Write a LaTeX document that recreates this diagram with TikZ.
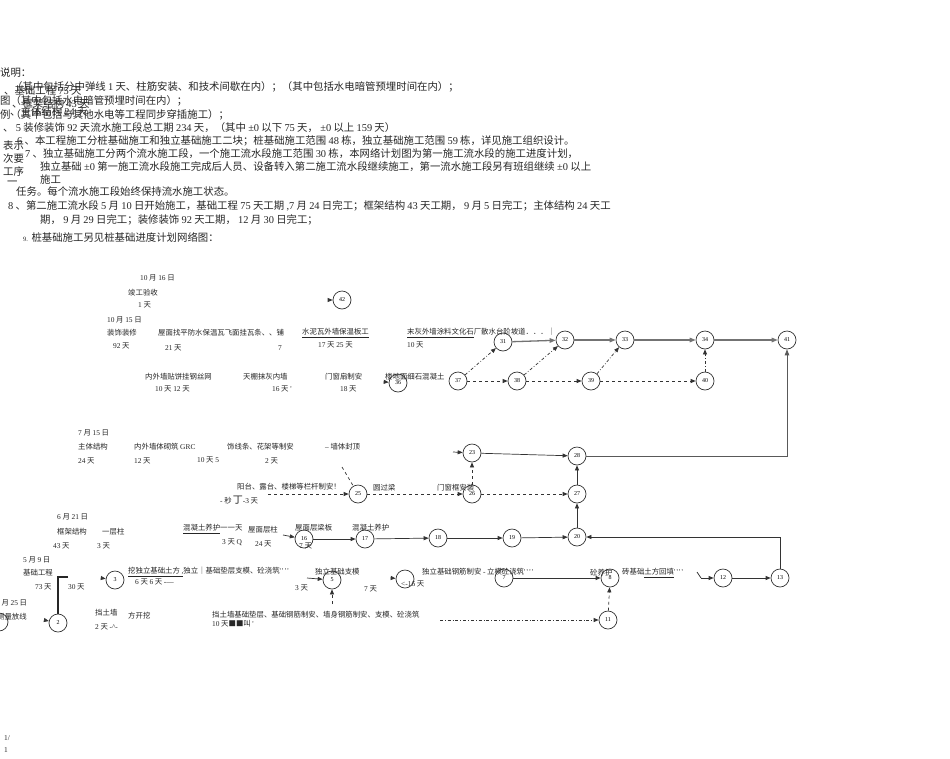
\documentclass[tikz,border=0pt]{standalone}
\usepackage{fontspec}
\setmainfont{Liberation Serif}
\newfontfamily\cjkf{Noto Sans CJK SC}
\newfontfamily\latf{Liberation Serif}
\usetikzlibrary{arrows.meta}
\XeTeXinterchartokenstate=1
\newXeTeXintercharclass\cjkcls
\newcount\mycnt
\def\setcjkrange#1#2{\mycnt=#1\relax\loop\XeTeXcharclass\mycnt=\cjkcls\relax\ifnum\mycnt<#2\relax\advance\mycnt by 1\relax\repeat}
\setcjkrange{"2E80}{"9FFF}
\setcjkrange{"FF00}{"FFEF}
\setcjkrange{"25A0}{"25FF}
\XeTeXinterchartoks 0 \cjkcls = {\hskip0.22em\cjkf}
\XeTeXinterchartoks 4095 \cjkcls = {\cjkf}
\XeTeXinterchartoks \cjkcls 0 = {\hskip0.22em\latf}
\XeTeXinterchartoks \cjkcls 4095 = {\latf}
\newcommand\qq{\textquotesingle\,\textquotesingle\,\textquotesingle\,\textquotesingle}
\tikzset{
  ev/.style={circle,draw=black!80,line width=0.7pt,minimum size=18pt,inner sep=0pt,font=\fontsize{6}{6}\selectfont},
  lb/.style={anchor=west,inner sep=0pt,font=\fontsize{7.4}{9}\selectfont,text=black!85},
  tx/.style={anchor=west,inner sep=0pt,font=\fontsize{10.4}{11}\selectfont,text=black!85},
  sol/.style={draw=black!80,line width=0.7pt,-{Triangle[length=5pt,width=4pt]}},
  gsol/.style={draw=black!55,line width=1.3pt,-{Triangle[length=6pt,width=4.5pt]}},
  dsh/.style={sol,dashed},
  ddot/.style={sol,dash dot},
}
\begin{document}
\begin{tikzpicture}[x=1pt,y=-1pt]
\path[use as bounding box,fill=white] (0,0) rectangle (950,758);

% ---------- notes ----------
\node[tx] (a1) at (0,73) {说明：};
\node[tx] (a2) at (12,87) {（其中包括分中弹线1天、柱筋安装、和技术间歇在内）；（其中包括水电暗管预埋时间在内）；};
\node[tx] (a2b) at (4,91) {、基础工程75天};
\node[tx] (a3) at (0,101) {图（其中包括水电暗管预埋时间在内）；};
\node[tx] (a3b) at (12,104) {、框架结构43天};
\node[tx] (a4) at (0,115) {例（其中包括与其他水电等工程同步穿插施工）；};
\node[tx] (a4b) at (10,112) {、主体结构24天};
\node[tx] (a5) at (3,128) {、5装修装饰92天};
\node[tx] (a5b) at (80,128) {、流水施工段总工期234天，（其中±0以下75天，±0以上159天）};
\node[tx] (a6) at (17,141) {6、本工程施工分桩基础施工和独立基础施工二块；桩基础施工范围48栋，独立基础施工范围59栋，详见施工组织设计。};
\node[tx] (a6b) at (3,146) {表示};
\node[tx] (a7) at (25,154) {7、独立基础施工分两个流水施工段，一个施工流水段施工范围30栋，本网络计划图为第一施工流水段的施工进度计划，};
\node[tx] (a7b) at (3,159) {次要};
\node[tx] (a8) at (40,167) {独立基础±0第一施工流水段施工完成后人员、设备转入第二施工流水段继续施工，第一流水施工段另有班组继续±0以上};
\node[tx] (a8b) at (3,172) {工序};
\node[tx] (a9) at (40,180) {施工};
\node[tx] (a9b) at (7,183) {一};
\node[tx] (a10) at (16,192) {任务。每个流水施工段始终保持流水施工状态。};
\node[tx] (a11) at (8,206) {8、第二施工流水段5月10日开始施工，基础工程75天工期,7月24日完工；框架结构43天工期，9月5日完工；主体结构24天工};
\node[tx] (a12) at (40,220) {期，9月29日完工；装修装饰92天工期，12月30日完工；};
\node[tx] (a13) at (23,237) {{\fontsize{6.5}{7}\selectfont 9.} 桩基础施工另见桩基础进度计划网络图：};

% ---------- labels ----------
\node[lb] (b1) at (140,278) {10月16日};
\node[lb] (b2) at (128,293) {竣工验收};
\node[lb] (b3) at (138,305) {1天};
\node[lb] (b4) at (107,320) {10月15日};
\node[lb] (b5) at (107,333) {装饰装修};
\node[lb] (b6) at (113,346) {92天};
\node[lb] (b7) at (158,333) {屋面找平防水保温瓦飞面挂瓦条、、铺};
\node[lb] (b8) at (165,348) {21天};
\node[lb] (b9) at (278,348) {7};
\node[lb] (b10) at (302,333) {\underline{水泥瓦外墙保温板工}};
\node[lb] (b11) at (318,345) {17天25天};
\node[lb] (b12) at (407,333) {\underline{末灰外墙涂料文化石}厂散水台阶坡道．．．｜};
\node[lb] (b13) at (407,345) {10天};
\node[lb] (b14) at (145,377) {内外墙贴饼挂钢丝网};
\node[lb] (b15) at (155,389) {10天12天};
\node[lb] (b16) at (243,377) {天棚抹灰内墙};
\node[lb] (b17) at (272,389) {16天'};
\node[lb] (b18) at (325,377) {门窗扇制安};
\node[lb] (b19) at (340,389) {18天};
\node[lb] (b20) at (385,377) {楼地面细石混凝土};

\node[lb] (c1) at (78,433) {7月15日};
\node[lb] (c2) at (78,447) {主体结构};
\node[lb] (c3) at (78,461) {24天};
\node[lb] (c4) at (134,447) {内外墙体砌筑GRC};
\node[lb] (c5) at (134,461) {12天};
\node[lb] (c6) at (197,460) {10天5};
\node[lb] (c7) at (227,447) {饰线条、花架等制安};
\node[lb] (c8) at (265,461) {2天};
\node[lb] (c9) at (325,447) {--墙体封顶};
\node[lb] (c10) at (237,487) {阳台、露台、楼梯等栏杆制安！};
\node[lb] (c11) at (220,500) {-秒\,{\fontsize{10}{10}\selectfont 丁}-3天};
\node[lb] (c12) at (373,488) {圆过梁};
\node[lb] (c13) at (437,488) {门窗框安装};

\node[lb] (d1) at (57,517) {6月21日};
\node[lb] (d2) at (57,532) {框架结构};
\node[lb] (d3) at (102,532) {一层柱};
\node[lb] (d4) at (53,546) {43天};
\node[lb] (d5) at (97,546) {3天};
\node[lb] (d6) at (183,529) {\underline{混凝土养护}一一天};
\node[lb] (d7) at (222,542) {3天Q};
\node[lb] (d8) at (248,530) {屋面层柱};
\node[lb] (d9) at (255,544) {24天};
\node[lb] (d10) at (295,528) {屋面层梁板};
\node[lb] (d11) at (299,546) {7天};
\node[lb] (d12) at (352,528) {混凝土养护};

\node[lb] (e1) at (23,560) {5月9日};
\node[lb] (e2) at (23,573) {基础工程};
\node[lb] (e3) at (35,587) {73天};
\node[lb] (e4) at (68,587) {30天};
\node[lb] (e5) at (-4,603) {2月25日};
\node[lb] (e6) at (-3,617) {测量放线};
\node[lb] (e7) at (95,613) {挡土墙};
\node[lb] (e8) at (95,627) {2天-\textasciicircum-};
\node[lb] (e9) at (128,616) {方开挖};
\node[lb] (e10) at (128,572) {\underline{挖独立基础土方,}独立｜基础垫层支模、砼浇筑\qq};
\node[lb] (e11) at (135,582) {6天6天-—};
\node[lb] (e12) at (315,572) {独立基础支模};
\node[lb] (e13) at (295,588) {3天};
\node[lb] (e14) at (364,589) {7天};
\node[lb] (e15) at (401,584) {\textless-16天};
\node[lb] (e16) at (422,572) {独立基础钢筋制安-立模砼浇筑\qq};
\node[lb] (e17) at (590,573) {砼养护};
\node[lb] (e18) at (622,573) {砖基础\underline{土方回填}\qq};
\node[lb] (e19) at (212,615) {挡土墙基础垫层、基础钢筋制安、墙身钢筋制安、支模、砼浇筑};
\node[lb] (e20) at (212,624) {10天■■叫'};

\node[lb] (f1) at (4,738) {1/};
\node[lb] (f2) at (4,750) {1};

% ---------- events ----------
\node[ev] (n42) at (342,300) {\raisebox{-3pt}{42}};
\node[ev] (n31) at (503,342) {\raisebox{-3pt}{31}};
\node[ev] (n32) at (565,340) {\raisebox{-3pt}{32}};
\node[ev] (n33) at (625,340) {\raisebox{-3pt}{33}};
\node[ev] (n34) at (705,340) {\raisebox{-3pt}{34}};
\node[ev] (n41) at (787,340) {\raisebox{-3pt}{41}};
\node[ev] (n36) at (398,383) {\raisebox{-3pt}{36}};
\node[ev] (n37) at (458,381) {\raisebox{-3pt}{37}};
\node[ev] (n38) at (517,381) {\raisebox{-3pt}{38}};
\node[ev] (n39) at (591,381) {\raisebox{-3pt}{39}};
\node[ev] (n40) at (705,381) {\raisebox{-3pt}{40}};
\node[ev] (n23) at (472,453) {\raisebox{-3pt}{23}};
\node[ev] (n28) at (577,456) {\raisebox{-3pt}{28}};
\node[ev] (n25) at (358,494) {\raisebox{-3pt}{25}};
\node[ev] (n26) at (472,494) {\raisebox{-3pt}{26}};
\node[ev] (n27) at (577,494) {\raisebox{-3pt}{27}};
\node[ev] (n16) at (304,539) {\raisebox{-3pt}{16}};
\node[ev] (n17) at (365,539) {\raisebox{-3pt}{17}};
\node[ev] (n18) at (438,538) {\raisebox{-3pt}{18}};
\node[ev] (n19) at (512,538) {\raisebox{-3pt}{19}};
\node[ev] (n20) at (577,537) {\raisebox{-3pt}{20}};
\node[ev] (n1) at (-1,622) {\raisebox{-3pt}{1}};
\node[ev] (n2) at (58,623) {\raisebox{-3pt}{2}};
\node[ev] (n3) at (115,580) {\raisebox{-3pt}{3}};
\node[ev] (n5) at (332,580) {\raisebox{-3pt}{5}};
\node[ev] (n6) at (405,579) {};
\node[ev] (n7) at (504,578) {\raisebox{-3pt}{7}};
\node[ev] (n8) at (610,578) {\raisebox{-3pt}{8}};
\node[ev] (n11) at (608,620) {\raisebox{-3pt}{11}};
\node[ev] (n12) at (723,578) {\raisebox{-3pt}{12}};
\node[ev] (n13) at (780,578) {\raisebox{-3pt}{13}};

% free ends
\coordinate (k42) at (331,300);
\coordinate (k36) at (386,382);
\coordinate (k23) at (453,452);
\coordinate (k25a) at (268,494);
\coordinate (k25b) at (342,467);
\coordinate (k16) at (283,535);
\coordinate (k2h) at (68,577);
\coordinate (k2) at (44,620);
\coordinate (k3) at (101,578);
\coordinate (k5) at (307,578);
\coordinate (k5b) at (332,604);
\coordinate (k6) at (391,578);
\coordinate (k11) at (440,620);
\coordinate (k12a) at (697,572);
\coordinate (k12) at (701,578);

% ---------- connectors ----------
\draw[sol] (k42) -- (n42);
\draw[sol] (k36) -- (n36);
\draw[gsol] (n31) -- (n32);
\draw[gsol] (n32) -- (n33);
\draw[gsol] (n33) -- (n34);
\draw[gsol] (n34) -- (n41);
\draw[ddot] (n37) -- (n31);
\draw[ddot] (n38) -- (n32);
\draw[ddot] (n39) -- (n33);
\draw[ddot] (n40) -- (n34);
\draw[dsh] (n37) -- (n38);
\draw[dsh] (n38) -- (n39);
\draw[dsh] (n39) -- (n40);
\draw[gsol,draw=black!65,line width=0.9pt] (n28) -| (n41);

\draw[sol] (k23) -- (n23);
\draw[sol] (n23) -- (n28);
\draw[dsh] (n26) -- (n23);
\draw[dsh] (k25a) -- (n25);
\draw[dsh,-] (k25b) -- (n25);
\draw[dsh] (n25) -- (n26);
\draw[dsh] (n26) -- (n27);
\draw[sol] (n27) -- (n28);
\draw[sol] (n20) -- (n27);

\draw[sol] (k16) -- (n16);
\draw[sol] (n16) -- (n17);
\draw[sol] (n17) -- (n18);
\draw[sol] (n18) -- (n19);
\draw[sol] (n19) -- (n20);
\draw[sol] (n13) |- (n20);

\draw[draw=black!85,line width=1.4pt] (k2h) -| (n2);
\draw[sol] (k2) -- (n2);
\draw[sol] (k3) -- (n3);
\draw[sol] (k5) -- (n5);
\draw[dsh] (k5b) -- (n5);
\draw[sol] (k6) -- (n6);
\draw[sol,line width=1pt] (n7) -- (n8);
\draw[ddot] (k11) -- (n11);
\draw[dsh] (n11) -- (n8);
\draw[sol,-] (k12a) -- (k12);
\draw[sol] (k12) -- (n12);
\draw[sol] (n12) -- (n13);
\end{tikzpicture}
\end{document}
